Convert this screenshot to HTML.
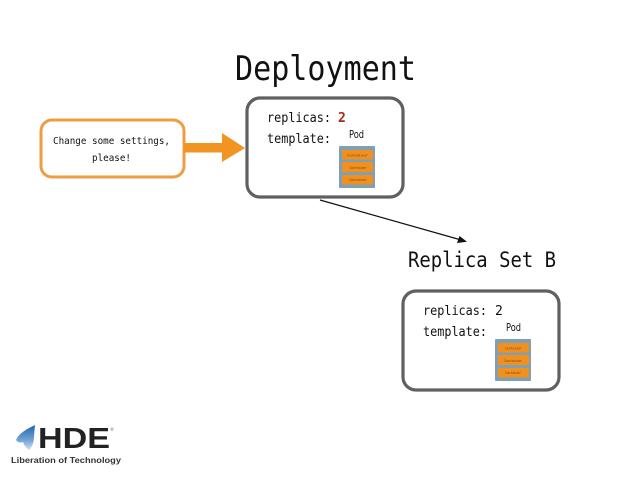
<!DOCTYPE html>
<html><head><meta charset="utf-8"><style>
html,body{margin:0;padding:0;background:#fff}
svg{display:block;filter:blur(0.35px)}
text{font-family:"DejaVu Sans Mono","Liberation Mono",monospace;fill:#111}
.s{font-family:"DejaVu Sans","Liberation Sans",sans-serif}
</style></head><body>
<svg width="638" height="479" viewBox="0 0 638 479" xmlns="http://www.w3.org/2000/svg">
<defs><linearGradient id="w" x1="0" y1="0" x2="0" y2="1"><stop offset="0" stop-color="#1f66ad"/><stop offset="0.6" stop-color="#6fa3d4"/><stop offset="1" stop-color="#d3e4f3"/></linearGradient></defs>
<rect width="638" height="479" fill="#fff"/>
<text x="235" y="80" font-size="34" textLength="181" lengthAdjust="spacingAndGlyphs">Deployment</text>

<rect x="41" y="120" width="143" height="57" rx="11" fill="#fff" stroke="#ee9e42" stroke-width="3"/>
<text x="53" y="144" font-size="10" textLength="117" lengthAdjust="spacingAndGlyphs">Change some settings,</text>
<text x="92" y="161" font-size="10" textLength="39" lengthAdjust="spacingAndGlyphs">please!</text>
<path d="M184 143H222V133L245 148L222 162V152.500H184Z" fill="#f19422"/>

<rect x="247" y="98" width="156" height="99" rx="13" fill="#fff" stroke="#606060" stroke-width="3.2"/>
<text x="267" y="122" font-size="13" textLength="64" lengthAdjust="spacingAndGlyphs">replicas:</text>
<text x="338" y="122" font-size="13" font-weight="bold" style="fill:#a5281b">2</text>
<text x="267" y="143" font-size="13" textLength="64" lengthAdjust="spacingAndGlyphs">template:</text>
<text x="349" y="138" font-size="10.5" class="s" textLength="15" lengthAdjust="spacingAndGlyphs">Pod</text>
<rect x="339" y="146" width="36" height="42" rx="1" fill="#7f9fb4"/>
<rect x="342" y="150" width="31" height="9.500" rx="1" fill="#f1901f"/>
<rect x="342" y="162" width="31" height="10" rx="1" fill="#f1901f"/>
<rect x="342" y="175" width="31" height="9.500" rx="1" fill="#f1901f"/>
<g opacity="0.6">
<text x="347" y="156.500" font-size="3.6" textLength="21" lengthAdjust="spacingAndGlyphs">Container</text>
<text x="349" y="169" font-size="3.6" textLength="18" lengthAdjust="spacingAndGlyphs">Container</text>
<text x="349" y="181" font-size="3.6" textLength="18" lengthAdjust="spacingAndGlyphs">Container</text>
</g>

<line x1="320" y1="200" x2="463" y2="240.500" stroke="#111" stroke-width="1.2"/>
<path d="M467 241.700L457 243L459.500 236Z" fill="#111"/>

<text x="408" y="267" font-size="21" textLength="148" lengthAdjust="spacingAndGlyphs">Replica Set B</text>

<rect x="403" y="291" width="156" height="99" rx="13" fill="#fff" stroke="#606060" stroke-width="3.2"/>
<text x="423" y="315" font-size="13" textLength="64" lengthAdjust="spacingAndGlyphs">replicas:</text>
<text x="495" y="315" font-size="13">2</text>
<text x="423" y="336" font-size="13" textLength="64" lengthAdjust="spacingAndGlyphs">template:</text>
<text x="506" y="331" font-size="10.5" class="s" textLength="15" lengthAdjust="spacingAndGlyphs">Pod</text>
<rect x="495" y="339" width="36" height="42" rx="1" fill="#7f9fb4"/>
<rect x="498" y="343" width="31" height="9.500" rx="1" fill="#f1901f"/>
<rect x="498" y="355" width="31" height="10" rx="1" fill="#f1901f"/>
<rect x="498" y="368" width="31" height="9.500" rx="1" fill="#f1901f"/>
<g opacity="0.6">
<text x="505" y="349.500" font-size="3.6" textLength="17" lengthAdjust="spacingAndGlyphs">Container</text>
<text x="504" y="362" font-size="3.6" textLength="18" lengthAdjust="spacingAndGlyphs">Container</text>
<text x="505" y="374" font-size="3.6" textLength="16" lengthAdjust="spacingAndGlyphs">Container</text>
</g>

<path d="M35 425C27 429 19 433 16 440C18 443 21 443 23 442C24 445 26 448 29 450C33 446 34 441 34 436Z" fill="url(#w)"/>
<text x="38" y="448" class="s" font-size="29" font-weight="bold" textLength="72" lengthAdjust="spacingAndGlyphs" style="fill:#222;font-family:'Liberation Sans',sans-serif">HDE</text>
<text x="110" y="431" class="s" font-size="4" style="fill:#666">®</text>
<text x="11" y="463" class="s" font-size="8" font-weight="bold" textLength="110" lengthAdjust="spacingAndGlyphs" style="fill:#333;font-family:'Liberation Sans',sans-serif">Liberation of Technology</text>
</svg>
</body></html>
